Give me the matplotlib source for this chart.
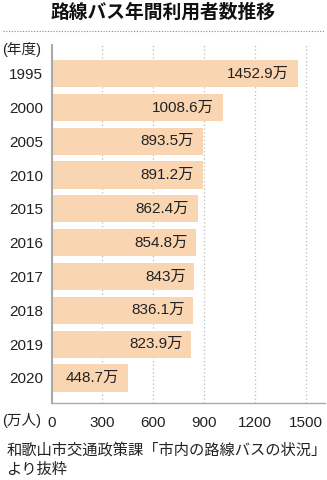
import matplotlib.pyplot as plt
import numpy as np

# 数字は Liberation Sans、和文は Noto Sans CJK JP にフォールバック
plt.rcParams['font.family'] = ['Liberation Sans', 'Noto Sans CJK JP']

years = ['1995', '2000', '2005', '2010', '2015', '2016', '2017', '2018', '2019', '2020']
riders = [1452.9, 1008.6, 893.5, 891.2, 862.4, 854.8, 843, 836.1, 823.9, 448.7]
value_labels = ['1452.9万', '1008.6万', '893.5万', '891.2万', '862.4万',
                '854.8万', '843万', '836.1万', '823.9万', '448.7万']
xticks = [0, 300, 600, 900, 1200, 1500]

fig = plt.figure(figsize=(3.27, 4.8), dpi=100)
ax = fig.add_axes([0.1575, 0.1604, 0.836, 0.7456])

pos = np.arange(len(years))
ax.barh(pos, riders, height=0.8, color='#F9D5B1', zorder=2)
for p, v, lab in zip(pos, riders, value_labels):
    ax.text(v - 52, p, lab, ha='right', va='center', fontsize=11, color='#222222', zorder=3)

ax.set_xlim(0, 1612)
ax.set_ylim(9.74, -0.84)
ax.set_yticks(pos)
ax.set_yticklabels(years, fontsize=11, color='#222222')
ax.set_xticks(xticks)
ax.set_xticklabels([str(t) for t in xticks], fontsize=11, color='#222222')
ax.tick_params(length=0)
ax.tick_params(axis='x', pad=9)
ax.tick_params(axis='y', pad=6)

ax.xaxis.grid(True, linestyle=(0, (1, 2)), color='#bbbbbb', linewidth=0.9, zorder=0)
for s in ['top', 'right']:
    ax.spines[s].set_visible(False)
ax.spines['left'].set_color('#aaaaaa')
ax.spines['left'].set_linewidth(1.5)
ax.spines['bottom'].set_color('#aaaaaa')
ax.spines['bottom'].set_linewidth(1)

fig.text(0.5, 0.975, '路線バス年間利用者数推移', ha='center', va='center',
         fontsize=13.5, fontweight='bold', color='#111111', family='Noto Sans CJK JP')
fig.add_artist(plt.Line2D([0.01, 0.99], [0.936, 0.936], transform=fig.transFigure,
                          linestyle=(0, (1, 1.5)), color='#888888', linewidth=0.8))
fig.text(0.008, 0.896, '(年度)', ha='left', va='center', fontsize=10.5, color='#222222')
fig.text(0.008, 0.123, '(万人)', ha='left', va='center', fontsize=10.5, color='#222222')
fig.text(0.02, 0.0625, '和歌山市交通政策課「市内の路線バスの状況」', ha='left', va='center',
         fontsize=11, color='#222222', family='Noto Sans CJK JP')
fig.text(0.02, 0.023, 'より抜粋', ha='left', va='center',
         fontsize=11, color='#222222', family='Noto Sans CJK JP')

fig.savefig('out.png', dpi=100)
